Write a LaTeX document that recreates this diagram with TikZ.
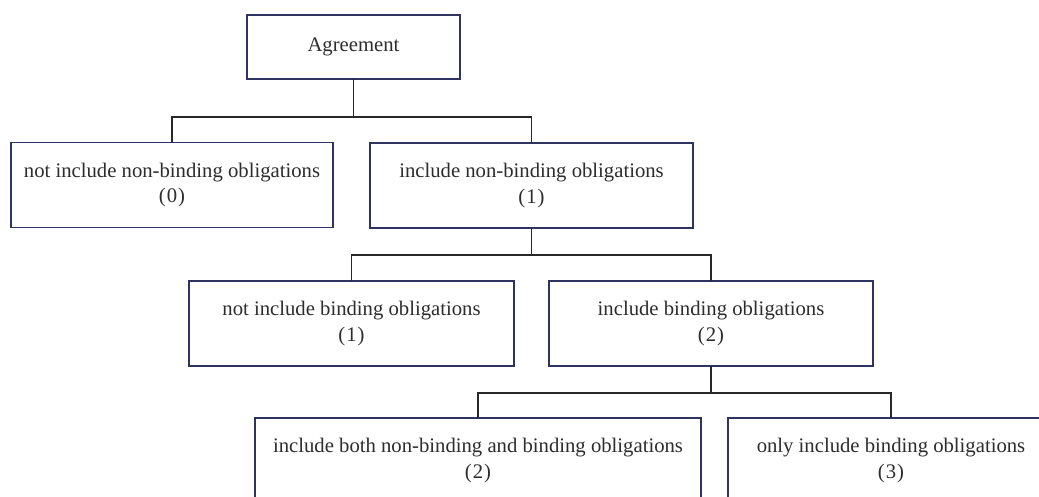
\documentclass[tikz,border=0pt]{standalone}
\usepackage{fontspec}
\setmainfont{Liberation Serif}
\definecolor{boxline}{RGB}{45,52,95}
\definecolor{conn}{RGB}{40,40,40}
\definecolor{txt}{RGB}{45,45,45}
\tikzset{
  tbox/.style={draw=boxline, line width=1.3pt, fill=white, inner sep=0pt, outer sep=0pt,
    align=center, text=txt, minimum height=85pt,
    font=\fontsize{20.7}{25.5}\selectfont},
  link/.style={draw=conn, line width=1.6pt}
}
\newcommand{\pn}[1]{(\kern1pt#1\kern1pt)}
\begin{document}
\begin{tikzpicture}[x=1pt,y=-1pt]
\useasboundingbox (0,0) rectangle (1039,497);
\clip (0,0) rectangle (1039,497);
\node[tbox, minimum width=213pt, minimum height=64pt] (ag) at (353.5,47) {Agreement};
\node[tbox, minimum width=322pt] (n0) at (172,185) {not include non-binding obligations\\\pn{0}};
\node[tbox, minimum width=323pt] (n1) at (531.5,185.5) {include non-binding obligations\\\pn{1}};
\node[tbox, minimum width=325pt] (b0) at (351.5,323.5) {not include binding obligations\\\pn{1}};
\node[tbox, minimum width=324pt] (b1) at (711,323.5) {include binding obligations\\\pn{2}};
\node[tbox, minimum width=446pt] (c0) at (478,460.5) {include both non-binding and binding obligations\\\pn{2}};
\node[tbox, minimum width=326pt] (c1) at (891,460.5) {only include binding obligations\\\pn{3}};
\coordinate (j1) at (353.5,117);
\coordinate (j2) at (531.5,255);
\coordinate (j3) at (711,393);
\draw[link] (ag.south) -- (j1);
\draw[link] (n0.north) |- (j1) -| (n1.north);
\draw[link] (n1.south) -- (j2);
\draw[link] (b0.north) |- (j2) -| (b1.north);
\draw[link] (b1.south) -- (j3);
\draw[link] (c0.north) |- (j3) -| (c1.north);
\end{tikzpicture}
\end{document}
